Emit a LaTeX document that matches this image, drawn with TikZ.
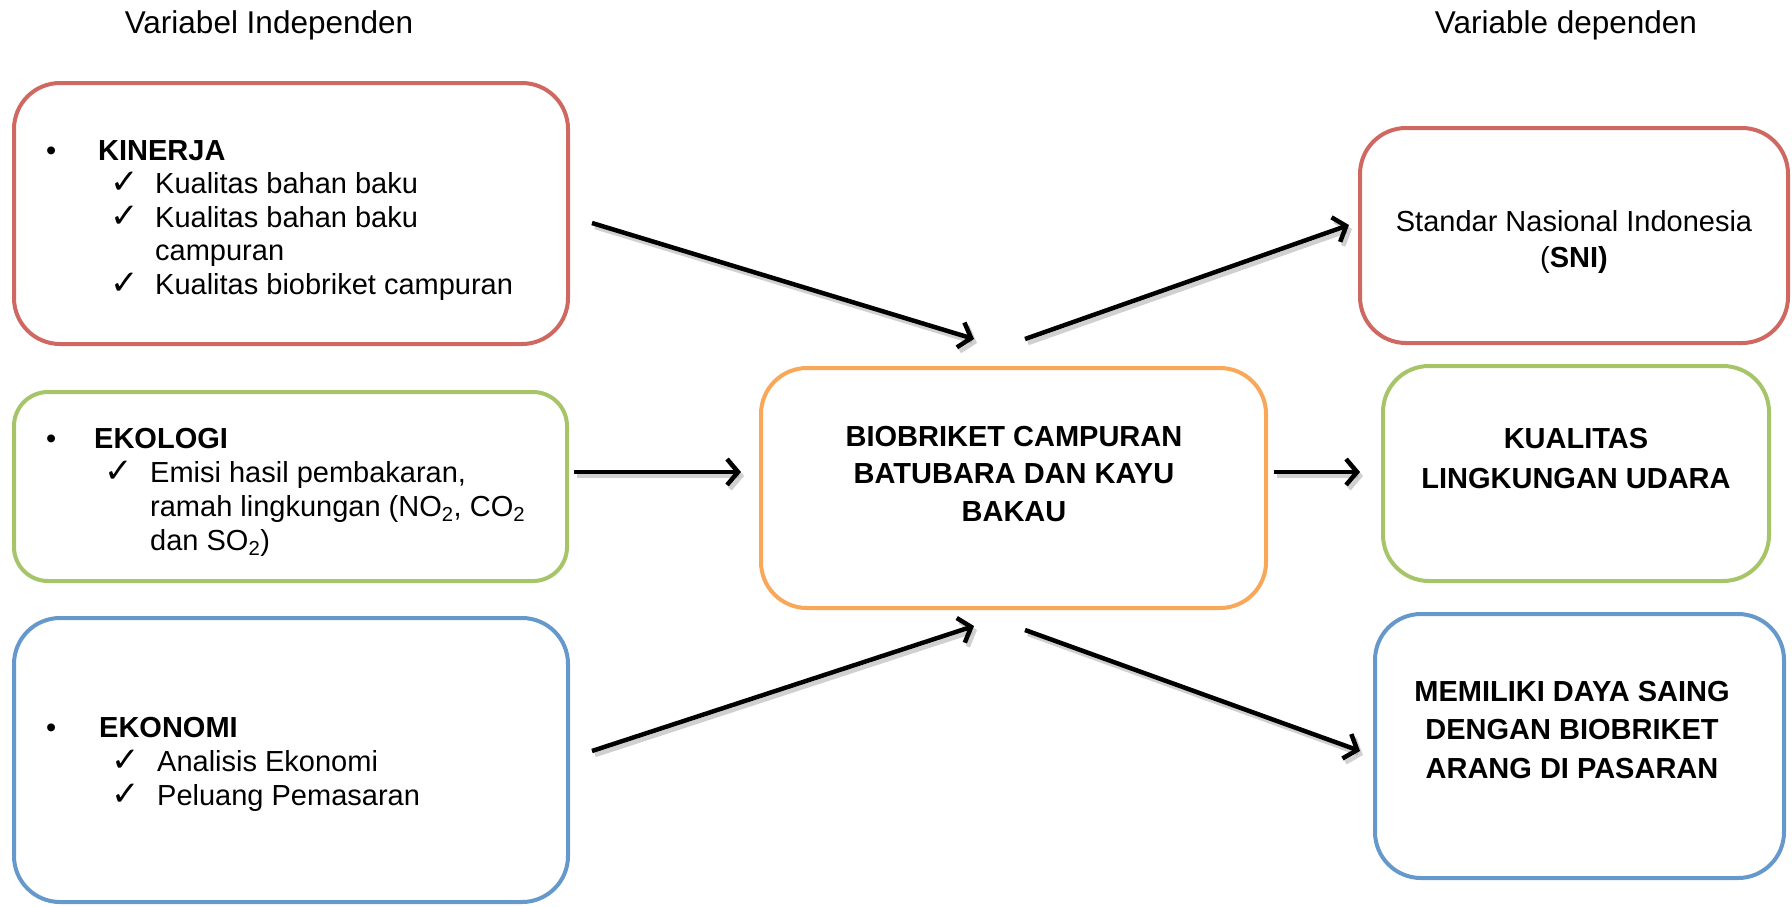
\documentclass[tikz,border=0pt]{standalone}
\usepackage{fontspec}
\setmainfont{Liberation Sans}
\newfontfamily\dejavu{DejaVu Sans}
\usetikzlibrary{arrows.meta}
\definecolor{cred}{RGB}{208,104,98}
\definecolor{cgreen}{RGB}{166,196,104}
\definecolor{cblue}{RGB}{101,152,203}
\definecolor{corange}{RGB}{249,167,88}
\definecolor{cshadow}{RGB}{150,150,150}
\begin{document}
\begin{tikzpicture}[x=1pt,y=-1pt,
  box/.style={draw, rounded corners=46pt, line width=4pt, fill=white, inner sep=0pt},
  smallbox/.style={box, rounded corners=34pt},
  ln/.style={anchor=base west, inner sep=0pt, font=\fontsize{29}{34}\selectfont},
  bln/.style={ln, font=\fontsize{29}{34}\selectfont\bfseries},
  cln/.style={anchor=base, inner sep=0pt, font=\fontsize{29}{34}\selectfont},
  bcln/.style={cln, font=\fontsize{29}{34}\selectfont\bfseries},
  chk/.style={anchor=base west, inner sep=0pt, font=\fontsize{34}{38}\selectfont\dejavu},
  title/.style={anchor=base, inner sep=0pt, font=\fontsize{31.5}{36}\selectfont},
  arr/.style={line width=4.5pt, -{Straight Barb[length=11pt,width=26pt]}},
  arrsh/.style={arr, draw=cshadow, opacity=0.45}
]
\useasboundingbox (0,0) rectangle (1792,906);
% titles
\node[title] (tl) at (269,33) {Variabel Independen};
\node[title] (tr) at (1566,33) {Variable dependen};
% boxes
\node[box, draw=cred, minimum width=554pt, minimum height=261pt] (kin) at (291,213.5) {};
\node[smallbox, draw=cgreen, minimum width=553pt, minimum height=189pt] (eko) at (290.5,486.5) {};
\node[box, draw=cblue, minimum width=554pt, minimum height=284pt] (ekn) at (291,760) {};
\node[box, draw=corange, minimum width=505pt, minimum height=240pt] (mid) at (1013.5,488) {};
\node[box, draw=cred, minimum width=428pt, minimum height=215pt] (sni) at (1574,235.5) {};
\node[box, draw=cgreen, minimum width=386pt, minimum height=215pt] (kua) at (1576,473.5) {};
\node[box, draw=cblue, minimum width=409pt, minimum height=264pt] (mem) at (1579.5,746) {};
% Kinerja text
\node[ln] (k0) at (46,160) {•};
\node[bln] (k1) at (98,160) {KINERJA};
\node[chk] (kc1) at (110,193.5) {✓};
\node[ln] (k2) at (155,193.5) {Kualitas bahan baku};
\node[chk] (kc2) at (110,227) {✓};
\node[ln] (k3) at (155,227) {Kualitas bahan baku};
\node[ln] (k4) at (155,260.5) {campuran};
\node[chk] (kc3) at (110,294) {✓};
\node[ln] (k5) at (155,294) {Kualitas biobriket campuran};
% Ekologi text
\node[ln] (e0) at (46,448) {•};
\node[bln] (e1) at (94,448) {EKOLOGI};
\node[chk] (ec1) at (104,482) {✓};
\node[ln] (e2) at (150,482) {Emisi hasil pembakaran,};
\node[ln] (e3) at (150,516) {ramah lingkungan (NO\textsubscript{2}, CO\textsubscript{2}};
\node[ln] (e4) at (150,550) {dan SO\textsubscript{2})};
% Ekonomi text
\node[ln] (n0) at (46,737) {•};
\node[bln] (n1) at (99,737) {EKONOMI};
\node[chk] (nc1) at (111,771) {✓};
\node[ln] (n2) at (157,771) {Analisis Ekonomi};
\node[chk] (nc2) at (111,805) {✓};
\node[ln] (n3) at (157,805) {Peluang Pemasaran};
% middle text
\node[bcln] (m1) at (1014,446) {BIOBRIKET CAMPURAN};
\node[bcln] (m2) at (1014,483.5) {BATUBARA DAN KAYU};
\node[bcln] (m3) at (1014,521) {BAKAU};
% right texts
\node[cln] (s1) at (1574,231) {Standar Nasional Indonesia};
\node[cln] (s2) at (1574,267) {(\textbf{SNI)}};
\node[bcln] (q1) at (1576,448) {KUALITAS};
\node[bcln] (q2) at (1576,488) {LINGKUNGAN UDARA};
\node[bcln] (r1) at (1572,701) {MEMILIKI DAYA SAING};
\node[bcln] (r2) at (1572,739.5) {DENGAN BIOBRIKET};
\node[bcln] (r3) at (1572,778) {ARANG DI PASARAN};
% arrow end points
\coordinate (a1s) at (592,223); \coordinate (a1e) at (974,339);
\coordinate (a2s) at (574,472); \coordinate (a2e) at (741,472);
\coordinate (a3s) at (592,751); \coordinate (a3e) at (974,626);
\coordinate (a4s) at (1025,339); \coordinate (a4e) at (1349,225);
\coordinate (a5s) at (1274,472); \coordinate (a5e) at (1360,472);
\coordinate (a6s) at (1025,630); \coordinate (a6e) at (1360,751);
% shadows
\foreach \i in {1,...,6}{
  \draw[arrsh] ([shift={(3,4)}]a\i s) -- ([shift={(3,4)}]a\i e);
}
% arrows
\foreach \i in {1,...,6}{
  \draw[arr] (a\i s) -- (a\i e);
}
\end{tikzpicture}
\end{document}
